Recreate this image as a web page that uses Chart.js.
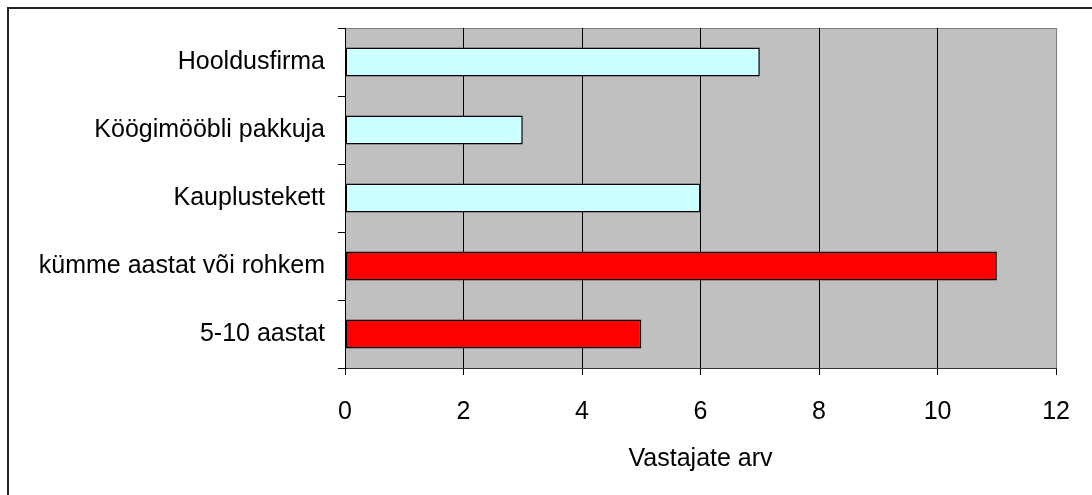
<!DOCTYPE html>
<html>
<head>
<meta charset="utf-8">
<script src="https://cdn.jsdelivr.net/npm/chart.js@4.4.0/dist/chart.umd.min.js"></script>
<style>
  html, body { margin: 0; padding: 0; background: #fff; overflow: hidden; }
  #wrap { width: 1092px; height: 495px; }
</style>
</head>
<body>
<div id="wrap"><canvas id="myChart" width="1092" height="495"></canvas></div>
<script>
// data
const categories = ['Hooldusfirma', 'Köögimööbli pakkuja', 'Kauplustekett', 'kümme aastat või rohkem', '5-10 aastat'];
const answers = [7, 3, 6, 11, 5];
const barColors = ['#CCFFFF', '#CCFFFF', '#CCFFFF', '#FF0000', '#FF0000'];
const xTicks = [0, 2, 4, 6, 8, 10, 12];
const xTitle = 'Vastajate arv';

const font = { family: '"Liberation Sans", Arial, sans-serif', size: 25 };

// gray plot area + outer frame
const plotBg = {
    id: 'plotBg',
    beforeDraw(chart) {
        const {ctx, chartArea: a} = chart;
        ctx.save();
        ctx.fillStyle = '#C0C0C0';
        ctx.fillRect(a.left, a.top, a.right - a.left, a.bottom - a.top);
        ctx.strokeStyle = '#808080';
        ctx.lineWidth = 1;
        ctx.strokeRect(a.left + 0.5, a.top + 0.5, a.right - a.left, a.bottom - a.top);
        ctx.restore();
    },
    afterDraw(chart) {
        const ctx = chart.ctx;
        ctx.save();
        ctx.strokeStyle = '#222';
        ctx.lineWidth = 2;
        ctx.beginPath();
        ctx.moveTo(8, chart.height + 5);
        ctx.lineTo(8, 8);
        ctx.lineTo(chart.width + 5, 8);
        ctx.stroke();
        ctx.restore();
    }
};

var ctx = document.getElementById('myChart').getContext('2d');

new Chart(ctx, {
    type: 'bar',
    data: {
        labels: categories,
        datasets: [{
            data: answers,
            backgroundColor: barColors,
            borderColor: '#000',
            borderWidth: 1.5,
            borderSkipped: false,
            barPercentage: 0.43,
            categoryPercentage: 1
        }]
    },
    options: {
        indexAxis: 'y',
        responsive: false,
        animation: false,
        events: [],
        layout: { padding: { top: 25, right: 33, bottom: 0, left: 0 } },
        plugins: { legend: { display: false }, tooltip: { enabled: false } },
        scales: {
            x: {
                min: 0,
                max: 12,
                afterBuildTicks: s => { s.ticks = xTicks.map(v => ({ value: v })); },
                afterFit: s => { s.height = 127; },
                ticks: { color: '#000', font: font, padding: 22, maxRotation: 0 },
                grid: {
                    color: c => (c.tick && c.tick.value === 12) ? '#808080' : '#000',
                    lineWidth: 1,
                    tickLength: 7,
                    tickColor: '#000'
                },
                border: { color: '#333', width: 1 },
                title: {
                    display: true,
                    text: xTitle,
                    color: '#000',
                    font: font,
                    padding: { top: 0, bottom: 21 }
                }
            },
            y: {
                afterFit: s => { s.width = 345; },
                ticks: { color: '#000', font: font, padding: 13 },
                grid: {
                    offset: true,
                    drawOnChartArea: false,
                    tickLength: 7,
                    color: '#000'
                },
                border: { color: '#000', width: 1 }
            }
        }
    },
    plugins: [plotBg]
});
</script>
</body>
</html>
